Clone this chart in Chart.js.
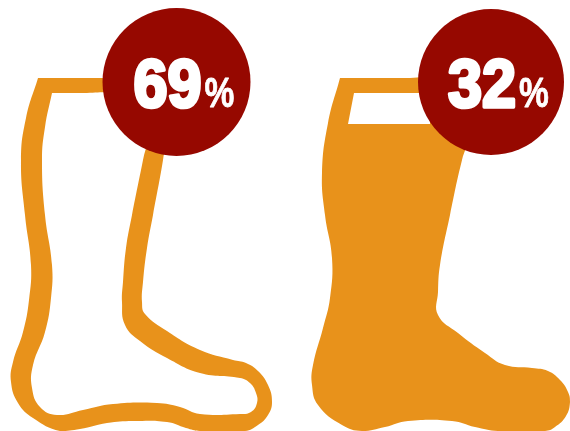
<!DOCTYPE html>
<html>
<head>
<meta charset="utf-8">
<style>
  html, body { margin: 0; padding: 0; background: #fff; }
  canvas { display: block; }
</style>
<script src="https://cdn.jsdelivr.net/npm/chart.js@4"></script>
</head>
<body>
<canvas id="boots-chart" width="570" height="431"></canvas>
<script>
var shares = [69, 32];
var shareX = [176.5, 491];
var shareY = [82, 82];
var shareR = [74, 73];

// boot outlines, [x, y] in picture units
var leftOuter = [[38,78],[40,78],[70,78],[110,78],[150,78],[170,110],[163,160],[153,215],[147,248],[143,282],[142,302],[145,314],
  [167,331],[200,350],[233,360],[246,363],[258,371],[268,385],[272,402],[268,415],[258,425],[245,431],[200,431],[186,428],[167,422],
  [133,421],[107,423],[80,429],[60,431],[33,418],[18,403],[11,382],[13,362],[23,332],[29,300],[31,265],[25,215],
  [21,160],[26,118],[38,78]];
var leftInner = [[52,93],[54,93],[80,93],[115,93],[140,100],[150,125],[143,160],[132,215],[126,248],[123,282],[122,302],[125,325],[140,341],
  [167,358],[200,373],[240,378],[250,383],[256,393],[257,403],[251,412],[240,414],[200,414],[180,407],[157,403],[113,404],[83,410],
  [57,415],[40,407],[32,388],[33,365],[45,332],[51,298],[52,265],[45,215],[42,160],[45,127],[52,93]];
var rightOuter = [[340,78],[342,78],[370,78],[410,78],[445,78],[475,115],[462,160],[450,215],[440,265],[438,292],[438,315],[458,333],
  [485,353],[505,365],[532,368],[548,371],[560,380],[568,392],[570,402],[566,416],[555,427],[545,431],[498,431],[475,427],[452,421],[408,421],
  [385,427],[362,431],[342,425],[318,405],[312,385],[313,365],[323,328],[330,298],[332,258],[325,215],[322,173],
  [328,123],[340,78]];
var rightSlot = [[354,93],[430,93],[430,124],[348,124]];

var orange = '#e8921b';
var darkRed = '#960800';

function toPoints(list) {
  return list.map(function (p) { return { x: p[0], y: p[1] }; });
}

function shape(list, color, tension) {
  return {
    type: 'scatter',
    showLine: true,
    data: toPoints(list),
    fill: 'shape',
    backgroundColor: color,
    borderColor: color,
    borderWidth: 0,
    tension: tension,
    pointRadius: 0
  };
}

// squeezed text, the installed sans has no condensed cut
function squeezed(ctx, text, x, y, squeeze, weight) {
  ctx.save();
  ctx.translate(x, y);
  ctx.scale(squeeze, 1);
  ctx.lineWidth = weight;
  ctx.strokeText(text, 0, 0);
  ctx.fillText(text, 0, 0);
  ctx.restore();
  return ctx.measureText(text).width * squeeze;
}

// percentage text in the middle of each circle
var shareLabels = {
  id: 'shareLabels',
  afterDatasetsDraw: function (chart) {
    var ctx = chart.ctx;
    var xs = chart.scales.x;
    var ys = chart.scales.y;
    ctx.save();
    ctx.fillStyle = '#fff';
    ctx.strokeStyle = '#fff';
    ctx.lineJoin = 'round';
    ctx.textBaseline = 'alphabetic';
    ctx.textAlign = 'left';
    shares.forEach(function (v, i) {
      var left = xs.getPixelForValue(shareX[i]) - 43;
      var base = ys.getPixelForValue(shareY[i]) + 25;
      ctx.font = 'bold 68px "Liberation Sans", sans-serif';
      var w = squeezed(ctx, String(v), left, base, 0.9, 3.6);
      ctx.font = 'bold 43px "Liberation Sans", sans-serif';
      squeezed(ctx, '%', left + w + 3, base, 0.78, 0.8);
    });
    ctx.restore();
  }
};

var ctx = document.getElementById('boots-chart').getContext('2d');

var mychart = new Chart(ctx, {
  data: {
    datasets: [
      {
        type: 'bubble',
        data: shares.map(function (v, i) { return { x: shareX[i], y: shareY[i], r: shareR[i] }; }),
        backgroundColor: darkRed,
        borderWidth: 0,
        hoverRadius: 0
      },
      shape(rightSlot, '#fff', 0),
      shape(rightOuter, orange, 0.45),
      shape(leftInner, '#fff', 0.45),
      shape(leftOuter, orange, 0.45)
    ]
  },
  options: {
    responsive: false,
    animation: false,
    layout: { padding: 0, autoPadding: false },
    plugins: {
      legend: { display: false },
      title: { display: false },
      tooltip: { enabled: false }
    },
    scales: {
      x: { type: 'linear', display: false, min: 0, max: 570 },
      y: { type: 'linear', display: false, min: 0, max: 431, reverse: true }
    }
  },
  plugins: [shareLabels]
});
</script>
</body>
</html>
